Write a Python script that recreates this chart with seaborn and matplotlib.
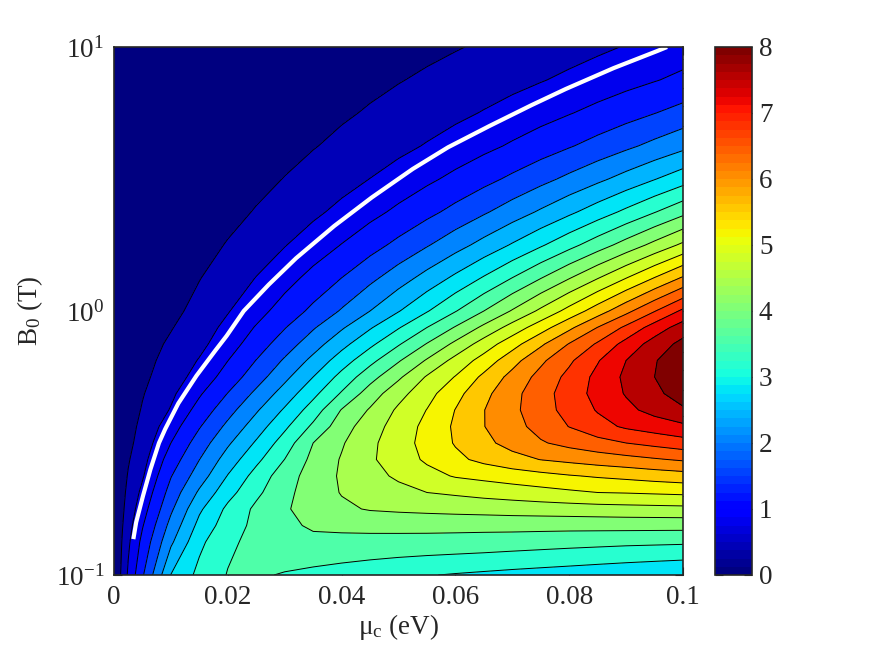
import numpy as np
import pandas as pd
import matplotlib
matplotlib.use("Agg")
import matplotlib.pyplot as plt
import seaborn as sns
from matplotlib.colors import Normalize
from matplotlib.cm import ScalarMappable

# --- data ---

# x grid: chemical potential mu_c (eV)
mu_c = [0, 0.0025, 0.005, 0.01, 0.015, 0.02, 0.025, 0.03, 0.035, 0.04, 0.045,
        0.05, 0.055, 0.06, 0.065, 0.07, 0.075, 0.08, 0.085, 0.09, 0.095, 0.1]

# y grid: log10 of B0 (T)
log_b0 = [-1.0, -0.875, -0.8125, -0.75, -0.6875, -0.625, -0.5625, -0.5, -0.4375,
          -0.375, -0.3125, -0.25, -0.1875, -0.125, -0.0625, 0.0,
          0.125, 0.25, 0.375, 0.5, 0.625, 0.75, 0.875, 1.0]

# estimated map values, one row per B0 value
row_m1000 = [0, 0.86, 1.55, 2.81, 3.31, 3.62, 3.65, 3.57, 3.50, 3.43, 3.355, 3.28, 3.22, 3.17, 3.125, 3.08, 3.04, 3.00, 2.955, 2.91, 2.865, 2.82]
row_m0875 = [0, 0.73, 1.31, 2.33, 3.11, 3.52, 3.72, 3.88, 3.91, 3.90, 3.89, 3.88, 3.865, 3.85, 3.83, 3.80, 3.77, 3.74, 3.715, 3.69, 3.675, 3.66]
row_m0812 = [0, 0.648, 1.17, 2.13, 2.92, 3.405, 3.70, 3.92, 4.05, 4.08, 4.10, 4.11, 4.12, 4.12, 4.12, 4.13, 4.13, 4.13, 4.135, 4.14, 4.14, 4.14]
row_m0750 = [0, 0.566, 1.03, 1.93, 2.73, 3.29, 3.68, 3.96, 4.15, 4.33, 4.43, 4.47, 4.50, 4.53, 4.555, 4.58, 4.60, 4.62, 4.64, 4.66, 4.675, 4.69]
row_m0688 = [0, 0.498, 0.895, 1.755, 2.465, 3.055, 3.515, 3.89, 4.20, 4.42, 4.55, 4.67, 4.80, 4.86, 4.93, 4.99, 5.06, 5.13, 5.20, 5.22, 5.25, 5.28]
row_m0625 = [0, 0.43, 0.76, 1.58, 2.20, 2.82, 3.35, 3.82, 4.17, 4.45, 4.66, 4.87, 5.07, 5.23, 5.31, 5.40, 5.48, 5.57, 5.64, 5.70, 5.77, 5.83]
row_m0562 = [0, 0.365, 0.665, 1.39, 1.995, 2.58, 3.10, 3.605, 4.11, 4.43, 4.74, 5.01, 5.26, 5.51, 5.70, 5.86, 6.01, 6.10, 6.19, 6.27, 6.36, 6.45]
row_m0500 = [0, 0.30, 0.57, 1.20, 1.79, 2.34, 2.85, 3.39, 4.00, 4.36, 4.71, 5.03, 5.33, 5.63, 5.90, 6.14, 6.36, 6.52, 6.66, 6.80, 6.915, 7.03]
row_m0438 = [0, 0.259, 0.50, 1.015, 1.57, 2.095, 2.60, 3.12, 3.68, 4.22, 4.62, 4.97, 5.31, 5.66, 5.99, 6.26, 6.54, 6.81, 7.06, 7.26, 7.39, 7.52]
row_m0375 = [0, 0.217, 0.43, 0.83, 1.35, 1.85, 2.35, 2.85, 3.39, 4.02, 4.44, 4.87, 5.21, 5.61, 5.99, 6.31, 6.63, 6.94, 7.23, 7.50, 7.73, 7.94]
row_m0312 = [0, 0.188, 0.374, 0.72, 1.15, 1.61, 2.085, 2.575, 3.09, 3.64, 4.19, 4.66, 5.06, 5.47, 5.89, 6.28, 6.63, 6.99, 7.33, 7.63, 7.90, 8.20]
row_m0250 = [0, 0.159, 0.317, 0.61, 0.95, 1.37, 1.82, 2.30, 2.80, 3.33, 3.85, 4.33, 4.84, 5.22, 5.69, 6.13, 6.53, 6.91, 7.31, 7.68, 8.00, 8.31]
row_m0188 = [0, 0.137, 0.274, 0.535, 0.825, 1.195, 1.61, 2.05, 2.51, 3.00, 3.48, 3.96, 4.44, 4.93, 5.36, 5.85, 6.32, 6.73, 7.17, 7.60, 7.97, 8.285]
row_m0125 = [0, 0.115, 0.23, 0.46, 0.70, 1.02, 1.40, 1.80, 2.22, 2.67, 3.11, 3.56, 4.02, 4.49, 4.98, 5.44, 5.93, 6.42, 6.85, 7.34, 7.77, 8.12]
row_m0062 = [0, 0.079, 0.172, 0.378, 0.61, 0.90, 1.23, 1.58, 1.96, 2.35, 2.76, 3.17, 3.60, 4.03, 4.49, 4.96, 5.42, 5.91, 6.41, 6.88, 7.38, 7.79]
row_p0000 = [0, 0.0432, 0.113, 0.297, 0.521, 0.777, 1.06, 1.366, 1.692, 2.037, 2.40, 2.778, 3.171, 3.579, 4.00, 4.434, 4.881, 5.338, 5.808, 6.288, 6.779, 7.28]
row_p0125 = [0, 0.0288, 0.0785, 0.2148, 0.3866, 0.586, 0.811, 1.056, 1.32, 1.602, 1.901, 2.214, 2.543, 2.885, 3.239, 3.607, 3.986, 4.378, 4.78, 5.193, 5.616, 6.05]
row_p0250 = [0, 0.0179, 0.0514, 0.1474, 0.2728, 0.4226, 0.593, 0.783, 0.99, 1.212, 1.45, 1.702, 1.967, 2.245, 2.535, 2.838, 3.151, 3.476, 3.812, 4.158, 4.514, 4.88]
row_p0375 = [0, 0.0106, 0.0322, 0.0977, 0.187, 0.2964, 0.423, 0.567, 0.725, 0.898, 1.084, 1.283, 1.494, 1.718, 1.952, 2.198, 2.455, 2.722, 3.0, 3.287, 3.583, 3.89]
row_p0500 = [0, 0.0066, 0.0209, 0.0663, 0.130, 0.2095, 0.303, 0.4106, 0.530, 0.662, 0.805, 0.959, 1.123, 1.298, 1.482, 1.676, 1.88, 2.092, 2.313, 2.544, 2.783, 3.03]
row_p0625 = [0, 0.0042, 0.0137, 0.0449, 0.0898, 0.1468, 0.215, 0.2935, 0.382, 0.480, 0.587, 0.703, 0.8275, 0.960, 1.101, 1.25, 1.406, 1.57, 1.742, 1.921, 2.107, 2.30]
row_p0750 = [0, 0.0028, 0.0095, 0.0317, 0.064, 0.1058, 0.156, 0.2142, 0.280, 0.3534, 0.4336, 0.521, 0.615, 0.7153, 0.8223, 0.9354, 1.055, 1.18, 1.311, 1.449, 1.591, 1.74]
row_p0875 = [0, 0.002, 0.0068, 0.0229, 0.0467, 0.0771, 0.114, 0.157, 0.2055, 0.2596, 0.3189, 0.3835, 0.4532, 0.5277, 0.607, 0.691, 0.7797, 0.873, 0.9707, 1.073, 1.179, 1.29]
row_p1000 = [0, 0.0009, 0.0034, 0.0126, 0.0272, 0.047, 0.0718, 0.1015, 0.1361, 0.1754, 0.2193, 0.268, 0.3212, 0.379, 0.4411, 0.508, 0.5789, 0.654, 0.7343, 0.819, 0.9071, 1.00]

# white curve drawn on top of the map
white_mu = [0.0034, 0.0039, 0.0051, 0.0064, 0.0079, 0.0090, 0.0113, 0.0145, 0.0178, 0.0198,
            0.0228, 0.0272, 0.0320, 0.0387, 0.0453, 0.0525, 0.0587, 0.0660, 0.0734, 0.0794,
            0.0878, 0.0955, 0.0972]
white_log_b0 = [-0.864, -0.80, -0.70, -0.60, -0.50, -0.447, -0.35, -0.245, -0.15, -0.094,
                0.0, 0.10, 0.20, 0.322, 0.43, 0.538, 0.62, 0.701, 0.78, 0.841,
                0.92, 0.985, 1.0]

# contour levels and colorbar ticks
levels = np.arange(0, 8.41, 0.4)
cbar_ticks = [0, 1, 2, 3, 4, 5, 6, 7, 8]
x_ticks = [0, 0.02, 0.04, 0.06, 0.08, 0.1]
y_ticks = [-1, 0, 1]

grid = pd.DataFrame(
    [row_m1000, row_m0875, row_m0812, row_m0750, row_m0688, row_m0625, row_m0562, row_m0500,
     row_m0438, row_m0375, row_m0312, row_m0250, row_m0188, row_m0125, row_m0062, row_p0000,
     row_p0125, row_p0250, row_p0375, row_p0500, row_p0625, row_p0750, row_p0875, row_p1000],
    index=log_b0, columns=mu_c)

# --- plot ---
sns.set_style("ticks")
plt.rcParams['font.family'] = ['Liberation Serif', 'DejaVu Serif']
plt.rcParams['mathtext.fontset'] = 'custom'
plt.rcParams['mathtext.rm'] = 'Liberation Serif'
plt.rcParams['mathtext.it'] = 'Liberation Serif:italic'

jet = matplotlib.colormaps['jet'].resampled(64)
norm = Normalize(0, 8)
# each band takes the colour of its lower level
band_colors = [jet(norm(min(v, 8))) for v in levels[:-1]]

fig = plt.figure(figsize=(8.73, 6.57), dpi=100)
ax = fig.add_axes([114 / 873, 82 / 657, 569 / 873, 528 / 657])
cax = fig.add_axes([715 / 873, 82 / 657, 37 / 873, 528 / 657])

X, Y = np.meshgrid(grid.columns.values, grid.index.values)
ax.contourf(X, Y, grid.values, levels=levels, colors=band_colors)
ax.contour(X, Y, grid.values, levels=levels[1:-1], colors='k', linewidths=0.7)
ax.plot(white_mu, white_log_b0, color='white', lw=3, solid_capstyle='butt', solid_joinstyle='round')

ax.set_xlim(0, 0.1)
ax.set_ylim(-1, 1)
ax.set_xticks(x_ticks)
ax.set_xticklabels([f'{t:g}' for t in x_ticks])
ax.set_yticks(y_ticks)
ax.set_yticklabels([r'$\mathregular{10^{%d}}$' % t for t in y_ticks])
minor = [d + np.log10(k) for d in (-1, 0) for k in range(2, 10)]
ax.set_yticks(minor, minor=True)
ax.tick_params(which='both', direction='in', top=True, right=True, labelsize=19.5, pad=7)
ax.tick_params(which='major', length=6, width=0.8)
ax.tick_params(which='minor', length=3.5, width=0.8)
for s in ax.spines.values():
    s.set_linewidth(1.2)

ax.set_xlabel(r'μ$_\mathregular{c}$ (eV)', fontsize=19.5, labelpad=2)
ax.set_ylabel(r'B$_\mathregular{0}$ (T)', fontsize=19.5, labelpad=8)

sm = ScalarMappable(norm=norm, cmap=jet)
cb = fig.colorbar(sm, cax=cax, ticks=cbar_ticks)
cb.ax.tick_params(direction='in', left=True, right=True, length=6, width=0.8, labelsize=19.5, pad=5)
cb.outline.set_linewidth(1.2)

fig.savefig('out.png', dpi=100)
